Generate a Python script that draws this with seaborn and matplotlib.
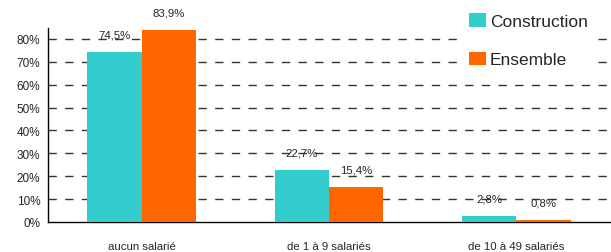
import pandas as pd
import numpy as np
import matplotlib.pyplot as plt
import seaborn as sns
from matplotlib.patches import Patch

categories = ['aucun salarié', 'de 1 à 9 salariés', 'de 10 à 49 salariés']
construction = [74.5, 22.7, 2.8]
ensemble = [83.9, 15.4, 0.8]
series = ['Construction', 'Ensemble']
colors = ['#33CCCC', '#FF6600']
yticks = [0, 10, 20, 30, 40, 50, 60, 70, 80]

df = pd.DataFrame({
    'cat': categories * 2,
    'serie': [series[0]] * 3 + [series[1]] * 3,
    'val': construction + ensemble,
})

sns.set_style('white')
plt.rcParams['font.family'] = ['Liberation Sans', 'DejaVu Sans']

fig = plt.figure(figsize=(6.11, 2.53), dpi=100)
ax = fig.add_axes([48 / 611, 30 / 253, 562 / 611, 194 / 253])

sns.barplot(data=df, x='cat', y='val', hue='serie', palette=colors,
            width=0.58, saturation=1, legend=False, ax=ax, zorder=3,
            edgecolor='none', linewidth=0)

ax.set_xlim(-0.5, 2.5)
ax.set_ylim(0, 84.8)
ax.set_yticks(yticks)
ax.set_yticklabels([f'{t}%' for t in yticks], fontsize=8.5)
ax.set_xticks([0, 1, 2])
ax.set_xticklabels(categories, fontsize=8.2)
ax.set_xticks([-0.5, 0.5, 1.5, 2.5], minor=True)
ax.tick_params(axis='x', which='major', length=0, pad=14)
ax.tick_params(axis='x', which='minor', length=4, direction='out', color='black', width=1)
ax.tick_params(axis='y', length=5, direction='inout', color='black', width=1, pad=3)
ax.set_xlabel('')
ax.set_ylabel('')

for t in yticks[1:]:
    ax.axhline(t, color='#333333', lw=1, ls=(0, (6, 6)), zorder=1)

for spine in ['top', 'right']:
    ax.spines[spine].set_visible(False)
for spine in ['left', 'bottom']:
    ax.spines[spine].set_color('black')
    ax.spines[spine].set_linewidth(1)

for cont in ax.containers:
    ax.bar_label(cont, labels=[f'{v:.1f}%'.replace('.', ',') for v in cont.datavalues],
                 padding=9, fontsize=8.2, zorder=4)

handles = [Patch(facecolor=c, edgecolor='none') for c in colors]
leg = fig.legend(handles, series, loc='upper left', bbox_to_anchor=(450 / 611, 1.02),
                 fontsize=12.5, frameon=True, facecolor='white', edgecolor='none',
                 framealpha=1, handlelength=1.0, handleheight=0.85, handletextpad=0.2,
                 labelspacing=1.3, borderpad=0.6)

fig.savefig('out.png', dpi=100)
